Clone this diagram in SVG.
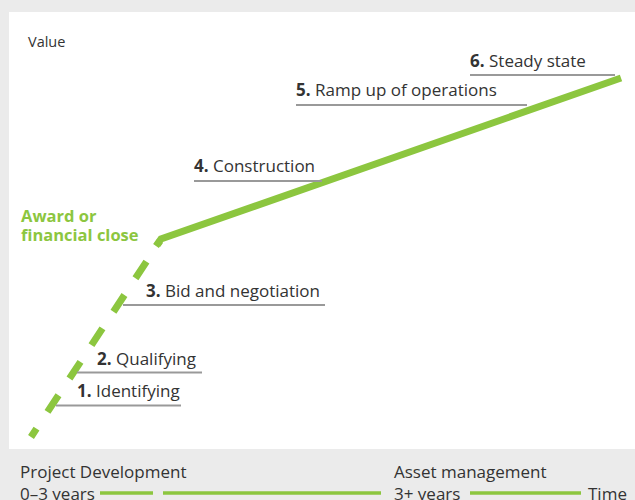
<svg xmlns="http://www.w3.org/2000/svg" width="635" height="500" viewBox="0 0 635 500">
<style>
text{font-family:"Open Sans","Noto Sans","Liberation Sans",sans-serif;fill:#333;}
.lbl{font-size:17px;}
.b{font-weight:bold;}
.ul{stroke:#999;stroke-width:2;fill:none;}
.g{stroke:#8cc63f;fill:none;}
.award{font-size:16.5px;font-weight:bold;fill:#8cc63f;}
</style>
<rect x="0" y="0" width="635" height="500" fill="#ebebeb"/>
<rect x="9" y="12" width="626" height="437" fill="#ffffff"/>
<text x="28" y="47" style="font-size:14.5px">Value</text>
<g id="connectors">
<path class="g" d="M31,437 L160,241" stroke-width="7" stroke-dasharray="20 20" stroke-dashoffset="10"/>
<path class="g" d="M156,246 L161,239 L621,78" stroke-width="7"/>
<line class="g" x1="100" y1="493" x2="153" y2="493" stroke-width="3.5"/>
<line class="g" x1="163" y1="493" x2="381" y2="493" stroke-width="3.5"/>
<line class="g" x1="470" y1="493" x2="581" y2="493" stroke-width="3.5"/>
</g>
<g id="n1"><line class="ul" x1="56" y1="405.5" x2="181" y2="405.5"/><text class="lbl" x="77" y="397"><tspan class="b">1.</tspan> Identifying</text></g>
<g id="n2"><line class="ul" x1="77" y1="372.5" x2="202" y2="372.5"/><text class="lbl" x="97" y="365"><tspan class="b">2.</tspan> Qualifying</text></g>
<g id="n3"><line class="ul" x1="123" y1="305" x2="325" y2="305"/><text class="lbl" x="146" y="297"><tspan class="b">3.</tspan> Bid and negotiation</text></g>
<g id="award"><text class="award" x="21" y="222">Award or</text><text class="award" x="21" y="241">financial close</text></g>
<g id="n4"><line class="ul" x1="194" y1="181" x2="322" y2="181"/><text class="lbl" x="194" y="172"><tspan class="b">4.</tspan> Construction</text></g>
<g id="n5"><line class="ul" x1="296" y1="105" x2="527" y2="105"/><text class="lbl" x="296" y="96"><tspan class="b">5.</tspan> Ramp up of operations</text></g>
<g id="n6"><line class="ul" x1="470" y1="75" x2="615" y2="75"/><text class="lbl" x="470" y="67"><tspan class="b">6.</tspan> Steady state</text></g>
<g id="timeline">
<text class="lbl" x="20" y="478">Project Development</text>
<text class="lbl" x="20" y="500">0–3 years</text>
<text class="lbl" x="394" y="478">Asset management</text>
<text class="lbl" x="394" y="500">3+ years</text>
<text class="lbl" x="588" y="500">Time</text>
</g>
</svg>
